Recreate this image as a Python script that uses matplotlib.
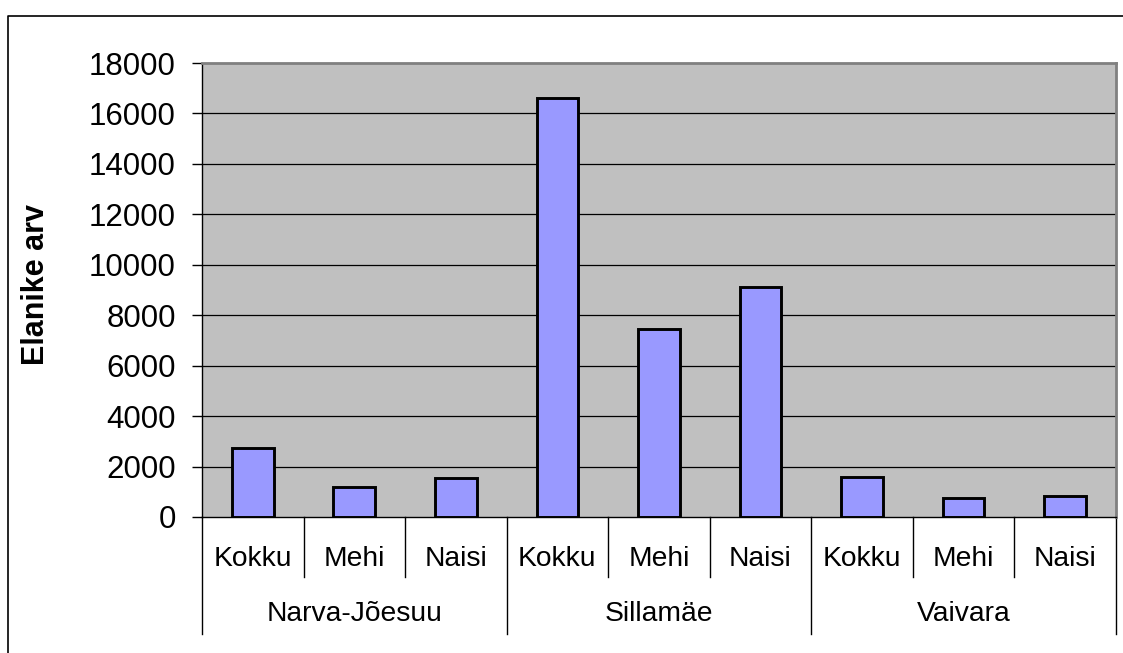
import matplotlib
matplotlib.use("Agg")
import matplotlib.pyplot as plt
from matplotlib.lines import Line2D
import numpy as np

# andmed
groups = ['Narva-Jõesuu', 'Sillamäe', 'Vaivara']
subcats = ['Kokku', 'Mehi', 'Naisi']
narva = [2740, 1200, 1550]
sillamae = [16600, 7470, 9100]
vaivara = [1580, 750, 820]
yticks = [0, 2000, 4000, 6000, 8000, 10000, 12000, 14000, 16000, 18000]

values = narva + sillamae + vaivara
x = np.arange(len(values))

plt.rcParams['font.family'] = ['Liberation Sans', 'DejaVu Sans']

fig = plt.figure(figsize=(11.23, 6.53), dpi=100)
ax = fig.add_axes([0.1799, 0.2083, 0.9935 - 0.1799, 0.9035 - 0.2083])

ax.set_facecolor('#C0C0C0')
ax.bar(x, values, width=0.41, color='#9999FF', edgecolor='black', linewidth=2.1, zorder=3)

ax.set_xlim(-0.5, len(values) - 0.5)
ax.set_ylim(0, 18000)
ax.set_yticks(yticks)
ax.set_yticklabels([str(v) for v in yticks], fontsize=22.5)
ax.tick_params(axis='y', direction='out', length=7, width=1, pad=12)
ax.set_xticks([])

for v in yticks[1:-1]:
    ax.axhline(v, color='black', linewidth=0.9, zorder=1)

ax.spines['top'].set_color('#808080')
ax.spines['right'].set_color('#808080')
ax.spines['top'].set_linewidth(2)
ax.spines['right'].set_linewidth(2)
ax.spines['left'].set_linewidth(1)
ax.spines['bottom'].set_linewidth(1)

ax.set_ylabel('Elanike arv', fontsize=22, fontweight='bold')
ax.yaxis.set_label_coords(-0.165, 0.513)

# mitmetasandiline x-telg
tr = ax.get_xaxis_transform()
for i in range(len(values) + 1):
    xb = i - 0.5
    if i % 3 == 0:
        ax.plot([xb, xb], [0, -0.258], color='black', linewidth=1, transform=tr, clip_on=False)
    else:
        ax.plot([xb, xb], [0, -0.132], color='black', linewidth=1, transform=tr, clip_on=False)

for i, v in enumerate(values):
    ax.text(i, -0.092, subcats[i % 3], ha='center', va='center', fontsize=20.3,
            transform=tr)

for g, name in enumerate(groups):
    ax.text(g * 3 + 1, -0.213, name, ha='center', va='center', fontsize=20.3,
            transform=tr)

# välimine raam
fx = 8 / 1123
fy = 1 - 16 / 653
fig.add_artist(Line2D([fx, fx, 1.1], [-0.1, fy, fy], color='black', linewidth=1.2,
                      transform=fig.transFigure))

fig.savefig('out.png', dpi=100)
